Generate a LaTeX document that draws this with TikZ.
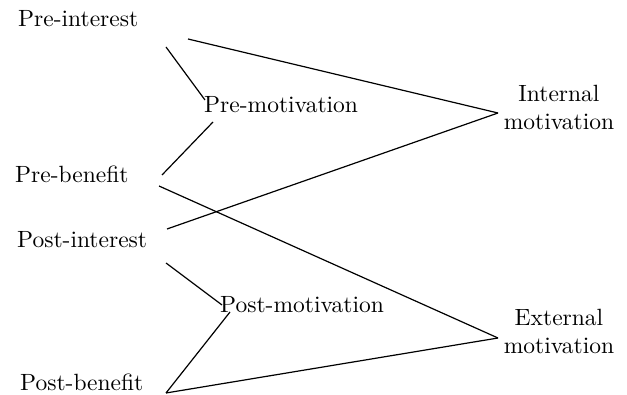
\documentclass[tikz,border=0pt]{standalone}
\usepackage{fontspec}
\setmainfont{lmroman10-regular.otf}
\begin{document}
\begin{tikzpicture}[x=1pt,y=-1pt,
  lbl/.style={inner sep=0pt,font=\fontsize{23.5}{28}\selectfont},
  lblw/.style={lbl,anchor=base west},
  lblc/.style={lbl,align=center,anchor=center},
  link/.style={line width=1.2pt,black}]
\useasboundingbox[fill=white] (0,0) rectangle (627,395);
% labels
\node[lblw] (preint) at (18,27) {Pre-interest};
\node[lblw] (premot) at (204,113) {Pre-motivation};
\node[lblw] (preben) at (15,183) {Pre-benefit};
\node[lblw] (postint) at (17,248) {Post-interest};
\node[lblw] (postmot) at (220,313) {Post-motivation};
\node[lblw] (postben) at (20,391) {Post-benefit};
\node[lblc] (intmot) at (559,107.5) {Internal\\motivation};
\node[lblc] (extmot) at (559,331.5) {External\\motivation};
% connection points
\coordinate (preint-a) at (188,39);
\coordinate (preint-b) at (166,47);
\coordinate (premot-a) at (205,100);
\coordinate (premot-b) at (213,122);
\coordinate (preben-a) at (162,175);
\coordinate (preben-b) at (159,186);
\coordinate (postint-a) at (167,229);
\coordinate (postint-b) at (166,263);
\coordinate (postmot-a) at (222,305);
\coordinate (postmot-b) at (230,312);
\coordinate (postben-a) at (166,393);
\coordinate (intmot-a) at (498,113);
\coordinate (extmot-a) at (498,338);
% connectors
\draw[link] (preint-a) -- (intmot-a);
\draw[link] (preint-b) -- (premot-a);
\draw[link] (preben-a) -- (premot-b);
\draw[link] (preben-b) -- (extmot-a);
\draw[link] (postint-a) -- (intmot-a);
\draw[link] (postint-b) -- (postmot-a);
\draw[link] (postben-a) -- (postmot-b);
\draw[link] (postben-a) -- (extmot-a);
\end{tikzpicture}
\end{document}
